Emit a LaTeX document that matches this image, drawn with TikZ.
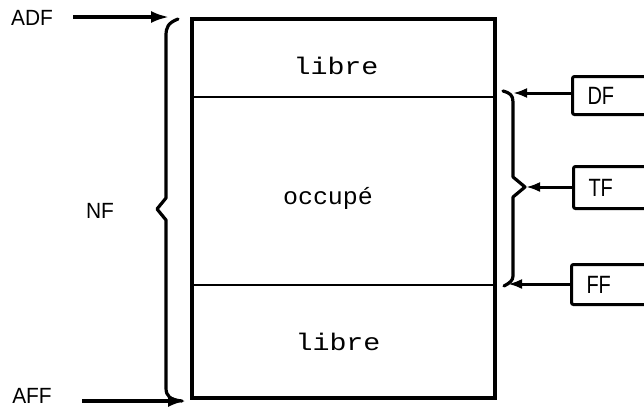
\documentclass[tikz,border=0pt]{standalone}
\usepackage{fontspec}
\setmainfont{Liberation Sans}
\newfontfamily\memfont{Liberation Mono}
\usetikzlibrary{arrows.meta}
\begin{document}
\begin{tikzpicture}[x=1pt,y=-1pt,
  thick line/.style={line width=3.4pt},
  memtext/.style={font=\fontsize{24}{26}\selectfont\memfont, inner sep=0pt},
  lbl/.style={font=\fontsize{22}{24}\selectfont, inner sep=0pt},
  ptrbox/.style={draw, line width=3pt, rounded corners=2pt, anchor=north west,
    minimum width=110pt, text width=80pt, align=left, inner xsep=8pt,
    font=\fontsize{25}{27}\selectfont},
  bigarrow/.style={line width=3.2pt, -{Latex[length=18pt,width=12pt]}},
  smallarrow/.style={line width=3pt, -{Latex[length=14pt,width=10pt]}},
  bracestyle/.style={line width=3.2pt, line join=round, line cap=round}]
\useasboundingbox (0,0) rectangle (644,408);
\clip (0,0) rectangle (644,408);

% memory block
\draw[thick line] (192,19) rectangle (495,398);
\draw[line width=2.6pt] (192,97) -- (495,97);
\draw[line width=2.6pt] (192,285) -- (495,285);
\node[memtext] (libre1) at (336,66) {\scalebox{1.18}[1]{libre}};
\node[memtext] (occ) at (328,198) {\scalebox{1.04}[1]{occup\'e}};
\node[memtext] (libre2) at (338,342) {\scalebox{1.18}[1]{libre}};

% left labels
\node[lbl] (ADF) at (32,18) {\scalebox{0.95}[1]{ADF}};
\node[lbl] (NF) at (100,211) {\scalebox{0.95}[1]{NF}};
\node[lbl] (AFF) at (32,396) {\scalebox{0.95}[1]{AFF}};
\coordinate (adfstart) at (73,17);
\coordinate (adfend) at (169,17);
\coordinate (affstart) at (82,401);
\coordinate (affend) at (186,401);
\draw[bigarrow] (adfstart) -- (adfend);
\draw[bigarrow] (affstart) -- (affend);

% left brace
\draw[bracestyle] (178,19) .. controls (168,23) and (166,27) .. (166,36)
  -- (166,198) -- (157,209) -- (166,220) -- (166,388)
  .. controls (166,396) and (170,400) .. (182,401);

% right brace
\draw[bracestyle] (503,91) .. controls (510,93) and (513,95) .. (513,102)
  -- (513,177) -- (525,187) -- (513,197) -- (513,276)
  .. controls (513,280) and (510,283) .. (504,286);

% pointer boxes
\node[ptrbox, minimum height=38pt] (DF) at (571,75) {\scalebox{0.8}[1]{DF}};
\node[ptrbox, minimum height=42pt] (TF) at (572,165) {\raisebox{-8pt}{\scalebox{0.8}[1]{TF}}};
\node[ptrbox, minimum height=40pt] (FF) at (570,263) {\raisebox{-9pt}{\scalebox{0.8}[1]{FF}}};
\coordinate (dfend) at (513,93);
\coordinate (tfend) at (526,187);
\coordinate (ffend) at (508,284);
\draw[smallarrow] (DF.west |- dfend) -- (dfend);
\draw[smallarrow] (TF.west |- tfend) -- (tfend);
\draw[smallarrow] (FF.west |- ffend) -- (ffend);
\end{tikzpicture}
\end{document}
